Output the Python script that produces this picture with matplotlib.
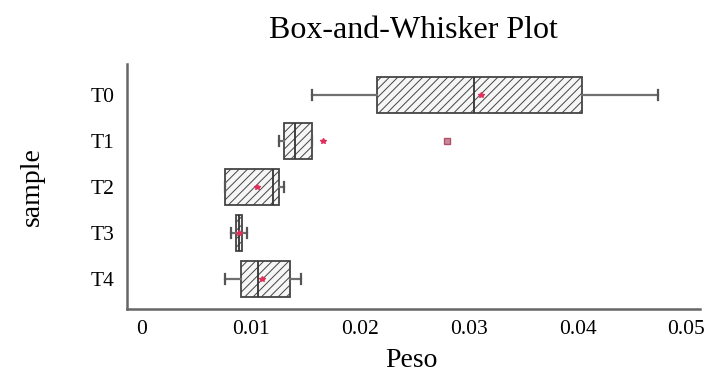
import matplotlib
matplotlib.use("Agg")
import matplotlib.pyplot as plt

categories = ["T0", "T1", "T2", "T3", "T4"]
whislo = [0.01558, 0.01258, 0.00762, 0.00815, 0.00762]
q1     = [0.02155, 0.01307, 0.00762, 0.00860, 0.00909]
med    = [0.03049, 0.01402, 0.01200, 0.00890, 0.01062]
q3     = [0.04043, 0.01561, 0.01261, 0.00916, 0.01356]
whishi = [0.04741, 0.01561, 0.01304, 0.00961, 0.01457]
means  = [0.03110, 0.01665, 0.01059, 0.00890, 0.01105]
fliers = [[], [0.02798], [], [], []]
xticks = [0, 0.01, 0.02, 0.03, 0.04, 0.05]
xticklabels = ["0", "0.01", "0.02", "0.03", "0.04", "0.05"]

plt.rcParams['font.family'] = ['Liberation Serif', 'DejaVu Serif']
plt.rcParams['hatch.color'] = '#8a8a8a'
plt.rcParams['hatch.linewidth'] = 0.7

fig = plt.figure(figsize=(7.04, 3.73), dpi=100)
ax = fig.add_axes([127/704, 1 - 308.5/373, 573/704, 244.5/373])

stats = []
for i, c in enumerate(categories):
    stats.append(dict(label=c, whislo=whislo[i], q1=q1[i], med=med[i], q3=q3[i],
                      whishi=whishi[i], mean=means[i], fliers=fliers[i]))

pos = list(range(len(categories)))
bp = ax.bxp(stats, positions=pos, vert=False, widths=0.78, capwidths=0.22,
            patch_artist=True, showmeans=True, showfliers=True,
            boxprops=dict(facecolor='#f6f6f6', edgecolor='#444444', linewidth=1.3, hatch='////'),
            medianprops=dict(color='#333333', linewidth=1.3),
            whiskerprops=dict(color='#707070', linewidth=1.6),
            capprops=dict(color='#555555', linewidth=1.6),
            meanprops=dict(marker='*', markerfacecolor='#e0305a', markeredgecolor='#e0305a', markersize=4),
            flierprops=dict(marker='s', markerfacecolor='#c88a9a', markeredgecolor='#b0506a', markersize=5))

ax.set_ylim(4.64, -0.67)
ax.set_xlim(-0.00138, 0.05124)
ax.set_yticks(pos)
ax.set_yticklabels(categories, fontsize=15.5)
ax.set_xticks(xticks)
ax.set_xticklabels(xticklabels, fontsize=15.5)
ax.tick_params(length=0, pad=8)
ax.tick_params(axis='y', pad=9)

for s in ['top', 'right']:
    ax.spines[s].set_visible(False)
for s in ['left', 'bottom']:
    ax.spines[s].set_color('#666666')
    ax.spines[s].set_linewidth(1.8)

ax.set_xlabel("Peso", fontsize=20)
ax.xaxis.label.set_va('baseline')
ax.xaxis.set_label_coords(0.496, -(367 - 308.5) / 244.5)
ax.set_ylabel("sample", fontsize=20)
ax.yaxis.set_label_coords(-(127 - 45) / 573, 0.5)
ax.set_title("Box-and-Whisker Plot", fontsize=23, pad=19)

fig.savefig("out.png", dpi=100)
